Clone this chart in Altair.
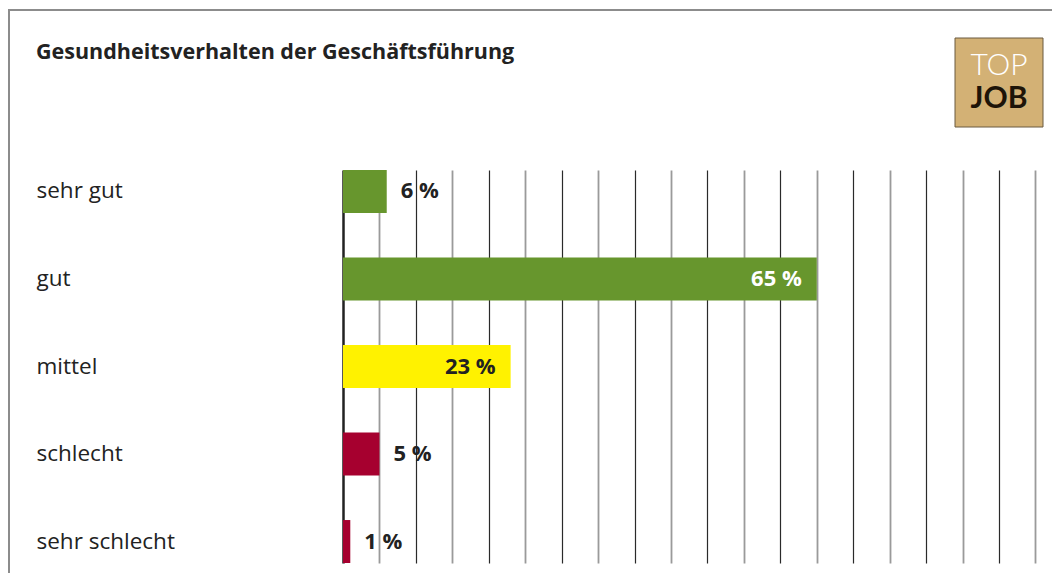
import altair as alt
import pandas as pd

categories = ["sehr gut", "gut", "mittel", "schlecht", "sehr schlecht"]
values = [6, 65, 23, 5, 1]
bar_colors = ["#67962d", "#67962d", "#fff200", "#a6002f", "#a6002f"]
label_colors = ["#222222", "#ffffff", "#222222", "#222222", "#222222"]
tick_values = [0, 5, 10, 15, 20, 25, 30, 35, 40, 45, 50, 55, 60, 65, 70, 75, 80, 85, 90, 95]
title_text = "Gesundheitsverhalten der Geschäftsführung"

df = pd.DataFrame({
    "cat": categories,
    "val": values,
    "bar_color": bar_colors,
    "label_color": label_colors,
})
df["label"] = df["val"].astype(str) + " %"

W = 707
H = 393
FONT = "Open Sans"

y_enc = alt.Y(
    "cat:N",
    sort=categories,
    title=None,
    scale=alt.Scale(paddingInner=0.509, paddingOuter=0),
    axis=alt.Axis(
        ticks=False, domain=False, labelAlign="left", labelPadding=307,
        labelFontSize=22.5, labelFont=FONT, labelColor="#222222", grid=False,
    ),
)
x_enc = alt.X(
    "val:Q",
    title=None,
    scale=alt.Scale(domain=[0, 97], nice=False, zero=True),
    axis=alt.Axis(
        values=tick_values, tickCount=40, labels=False, ticks=False, domain=False,
        grid=True, labelOverlap=False,
        gridColor={"condition": [
                       {"test": "datum.value === 0", "value": "#222222"},
                       {"test": "datum.value % 10 === 0", "value": "#2a2a2a"}],
                   "value": "#9a9a9a"},
        gridWidth={"condition": [
                       {"test": "datum.value === 0", "value": 2.5},
                       {"test": "datum.value % 10 === 0", "value": 1.2}],
                   "value": 1.8},
    ),
)

base = alt.Chart(df)

bars = base.mark_bar().encode(
    x=x_enc, y=y_enc, color=alt.Color("bar_color:N", scale=None)
)

inside = base.transform_filter("datum.val >= 20").mark_text(
    align="right", dx=-15, font=FONT, fontWeight="bold", fontSize=22
).encode(
    x="val:Q", y=alt.Y("cat:N", sort=categories), text="label:N",
    color=alt.Color("label_color:N", scale=None),
)

outside = base.transform_filter("datum.val < 20").mark_text(
    align="left", dx=14, font=FONT, fontWeight="bold", fontSize=22, color="#222222"
).encode(
    x="val:Q", y=alt.Y("cat:N", sort=categories), text="label:N",
)

one = alt.Chart(pd.DataFrame({"a": [0]}))

frame = one.mark_rect(fill=None, stroke="#8c8c8c", strokeWidth=2).encode(
    x=alt.value(-334), x2=alt.value(730), y=alt.value(-160), y2=alt.value(430)
)

logo_box = one.mark_rect(fill="#d3b175", stroke="#6b5a40", strokeWidth=1).encode(
    x=alt.value(612), x2=alt.value(700), y=alt.value(-132), y2=alt.value(-43)
)
logo_top = one.mark_text(
    text="TOP", font="Lato", fontWeight=300, fontSize=30, color="#ffffff",
    align="center", baseline="alphabetic"
).encode(x=alt.value(656), y=alt.value(-95))
logo_job = one.mark_text(
    text="JOB", font="Lato", fontWeight="bold", fontSize=30, color="#1e1408",
    align="center", baseline="alphabetic"
).encode(x=alt.value(656), y=alt.value(-62))

chart = alt.layer(frame, bars, inside, outside, logo_box, logo_top, logo_job).properties(
    width=W,
    height=H,
    autosize=alt.AutoSizeParams(type="none"),
    padding={"left": 335, "top": 162, "right": 2, "bottom": 10},
    title=alt.TitleParams(
        title_text, anchor="start", frame="group", dx=-307, offset=0, dy=54,
        font=FONT, fontSize=21.5, fontWeight="bold", color="#222222",
    ),
).configure(background="white").configure_view(stroke=None)

chart.save("out.html", embed_options={"renderer": "svg", "actions": False})
